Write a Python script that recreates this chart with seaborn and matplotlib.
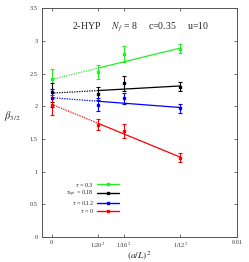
import numpy as np
import pandas as pd
import matplotlib
matplotlib.use("Agg")
import matplotlib.pyplot as plt
import seaborn as sns

# ---- data ----
x_vals = [0.0, 1/400, 1/256, 1/144]
series_labels = [r"$\tau$ = 0.3", r"$\tau_{opt}$ = 0.18", r"$\tau$ = 0.12", r"$\tau$ = 0"]
series_colors = ["#22ee22", "#000000", "#0000ff", "#ff0000"]
y_tau030 = [2.42, 2.52, 2.80, 2.88]
e_tau030 = [0.15, 0.11, 0.12, 0.07]
y_tau018 = [2.21, 2.19, 2.35, 2.30]
e_tau018 = [0.14, 0.10, 0.11, 0.07]
y_tau012 = [2.13, 2.02, 2.12, 1.97]
e_tau012 = [0.14, 0.10, 0.08, 0.07]
y_tau000 = [2.02, 1.72, 1.62, 1.21]
e_tau000 = [0.15, 0.08, 0.11, 0.07]
fit_at_0 = [2.41, 2.20, 2.13, 2.03]
fit_at_end = [2.89, 2.31, 1.98, 1.22]
xtick_vals = [0.0, 1/400, 1/256, 1/144, 0.01]
xtick_labels = ["0", r"1/20$^2$", r"1/16$^2$", r"1/12$^2$", "0.01"]
ytick_vals = [0, 0.5, 1, 1.5, 2, 2.5, 3, 3.5]
ytick_labels = ["0", "0.5", "1", "1.5", "2", "2.5", "3", "3.5"]

ys = [y_tau030, y_tau018, y_tau012, y_tau000]
es = [e_tau030, e_tau018, e_tau012, e_tau000]

sns.set_theme(style="ticks")
plt.rcParams["font.family"] = ["Liberation Serif", "DejaVu Serif"]
plt.rcParams["mathtext.fontset"] = "stix"

fig = plt.figure(figsize=(2.49, 2.62), dpi=100)
ax = fig.add_axes([0.1675, 0.0954, 0.7845, 0.8736])

for lab, col, y, e, f0, f1 in zip(series_labels, series_colors, ys, es, fit_at_0, fit_at_end):
    # fit line: dotted extrapolation from 0 to 1/20^2, solid beyond
    slope = (f1 - f0) / (x_vals[-1] - x_vals[0])
    xs_dot = np.array([x_vals[0], x_vals[1]])
    xs_sol = np.array([x_vals[1], x_vals[-1]])
    sns.lineplot(x=xs_dot, y=f0 + slope * xs_dot, ax=ax, color=col, lw=0.9,
                 linestyle=(0, (1, 1)), legend=False)
    sns.lineplot(x=xs_sol, y=f0 + slope * xs_sol, ax=ax, color=col, lw=0.9,
                 legend=False)
    ax.errorbar(x_vals, y, yerr=e, fmt="s", ms=1.8, color=col, ecolor=col,
                elinewidth=0.8, capsize=1.5, capthick=0.8, lw=0.9, label=lab)

ax.set_xlim(-0.00054, 0.01)
ax.set_ylim(0, 3.5)
ax.set_xticks(xtick_vals)
ax.set_xticklabels(xtick_labels)
ax.set_yticks(ytick_vals)
ax.set_yticklabels(ytick_labels)
ax.tick_params(direction="in", length=2, width=0.5, labelsize=4.5, pad=3,
               top=True, right=True, colors="#333333")
ax.tick_params(axis="x", pad=2.5)
for s in ax.spines.values():
    s.set_linewidth(0.7)
    s.set_color("#555555")

ax.set_xlabel(r"$(a/L)^2$", fontsize=6.8)
ax.xaxis.set_label_coords(0.5, -0.054)
ax.set_ylabel(r"$\beta_{3/2}$", fontsize=7.5, rotation=0)
ax.yaxis.set_label_coords(-0.15, 0.5)

ax.text(0.505, 0.917, r"2-HYP     $N_f$ = 8     c=0.35     u=10",
        transform=ax.transAxes, ha="center", va="center", fontsize=7)

# legend with line samples (gnuplot style)
handles = [plt.Line2D([0], [0], color=c, lw=1.0, marker="s", ms=1.8) for c in series_colors]
leg = ax.legend(handles, series_labels, loc="lower right", bbox_to_anchor=(0.418, 0.078),
                frameon=False, fontsize=4.5, markerfirst=False, handlelength=3.5,
                handletextpad=0.5, labelspacing=0.0, borderpad=0.2)
for t in leg.get_texts():
    t.set_ha("right")

fig.savefig("out.png", dpi=100)
